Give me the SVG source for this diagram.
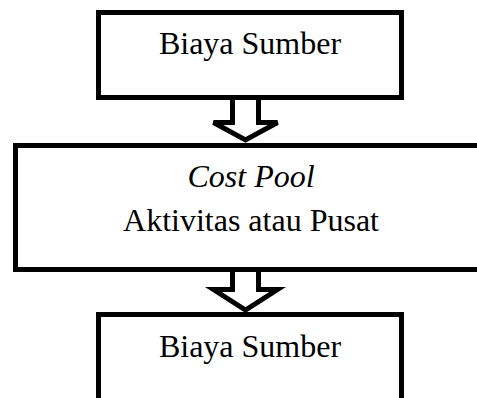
<svg xmlns="http://www.w3.org/2000/svg" width="477" height="398" viewBox="0 0 477 398">
<style>
.box{fill:#fff;stroke:#000;stroke-width:5}
.arrow{fill:#fff;stroke:#000;stroke-width:5;stroke-linejoin:miter}
text{font-family:"Liberation Serif","Times New Roman",serif;font-size:32px;fill:#000;text-anchor:middle}
.it{font-style:italic}
</style>
<rect width="477" height="398" fill="#fff"/>
<g id="node-top">
<rect class="box" x="98.5" y="12.5" width="303" height="85"/>
<text x="250" y="54">Biaya Sumber</text>
</g>
<g id="node-middle">
<rect class="box" x="15.5" y="145.5" width="471" height="124"/>
<text class="it" x="251" y="187">Cost Pool</text>
<text x="251" y="231">Aktivitas atau Pusat</text>
</g>
<g id="node-bottom">
<rect class="box" x="98.5" y="314.5" width="303" height="100"/>
<text x="250" y="357">Biaya Sumber</text>
</g>
<g id="connectors">
<path class="arrow" d="M232.5,100 V122.5 H213.5 L245.5,140 L277.5,122.5 H258.5 V100"/>
<path class="arrow" d="M232.5,272 V289.5 H213.5 L245.5,310 L277.5,289.5 H258.5 V272"/>
</g>
</svg>
